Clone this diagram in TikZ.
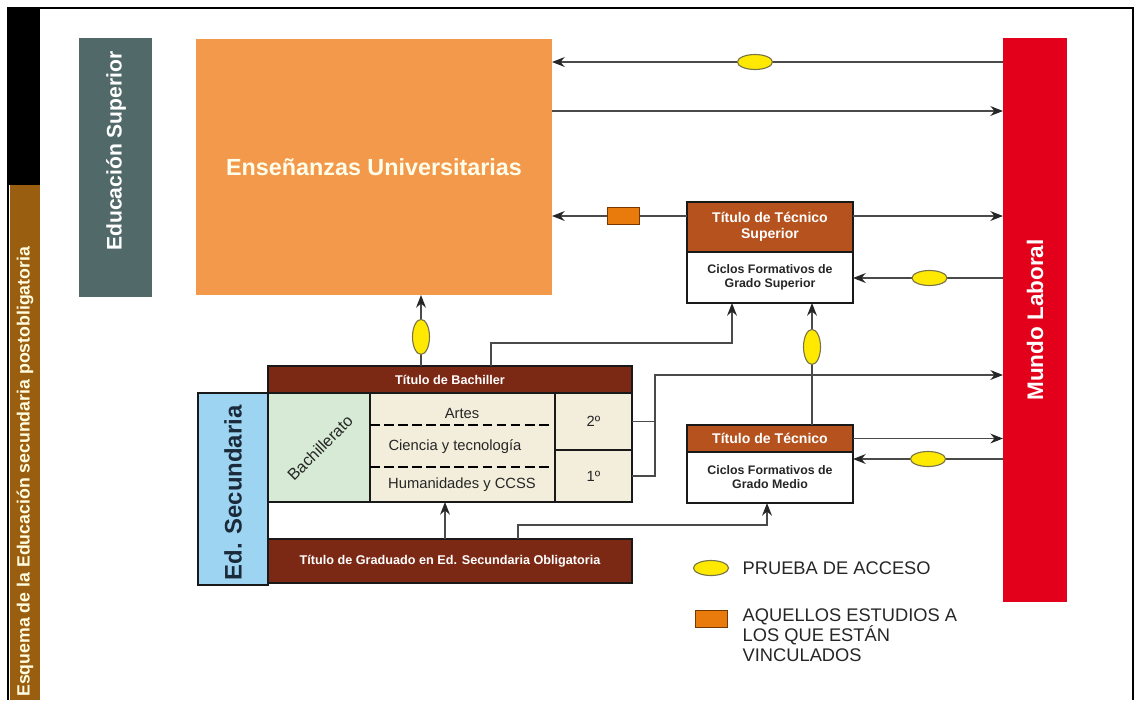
\documentclass[tikz,border=0pt]{standalone}
\usepackage{fontspec}
\setmainfont{Liberation Sans}
\usetikzlibrary{positioning}
\usetikzlibrary{arrows.meta}
\usetikzlibrary{shapes.geometric}
\newcommand{\pxu}{0.025cm}
\definecolor{bandbrown}{HTML}{9A5E10}
\definecolor{supgray}{HTML}{52696A}
\definecolor{univorange}{HTML}{F2994C}
\definecolor{laboralred}{HTML}{E2001A}
\definecolor{tecbrown}{HTML}{B5521E}
\definecolor{tituldark}{HTML}{7B2914}
\definecolor{secblue}{HTML}{9DD4F1}
\definecolor{secnavy}{HTML}{1B2A3A}
\definecolor{bachgreen}{HTML}{D6EAD5}
\definecolor{modbeige}{HTML}{F3EEDB}
\definecolor{pruebayellow}{HTML}{FFE900}
\definecolor{vincorange}{HTML}{E97B0C}
\definecolor{linegray}{HTML}{4A4A4A}

\begin{document}
\begin{tikzpicture}[x=\pxu, y=-\pxu, >={Stealth[length=9pt,width=7pt,color=black!85]}]
	\tikzstyle{block}=[rectangle, anchor=north west, inner sep=0pt, outer sep=0pt, align=center]
	\tikzstyle{boxed}=[block, draw=black!90, line width=1.6pt]
	\tikzstyle{prueba}=[ellipse, draw=black!60!yellow, fill=pruebayellow, line width=0.8pt, minimum width=35*\pxu, minimum height=15*\pxu, inner sep=0pt]
	\tikzstyle{pruebav}=[prueba, minimum width=17*\pxu, minimum height=35*\pxu]
	\tikzstyle{vinc}=[rectangle, draw=black!55!orange, fill=vincorange, line width=0.6pt, minimum width=32*\pxu, minimum height=17*\pxu, inner sep=0pt]
	\tikzstyle{link}=[draw=linegray, line width=0.9pt]
	\tikzstyle{arr}=[link, ->]
	\tikzstyle{rot}=[rotate=90, inner sep=0pt]
	\tikzstyle{cell}=[font=\fontsize{10.5}{12}\selectfont, text=black!85, inner sep=0pt]

	\useasboundingbox (0,0) rectangle (1135,700);
	% side band and frame
	\fill (8,8) rectangle (40,185);
	\fill[bandbrown] (10,185) rectangle (40,700);
	\draw[line width=1.5pt] (8,700) -- (8,8) -- (1133,8) -- (1133,700);
	\node[rot, anchor=west, text=white!88!yellow, font=\bfseries\fontsize{12.6}{12.6}\selectfont] (esquema) at (25,697) {Esquema de la Educación secundaria postobligatoria};

	% big blocks
	\node[block, fill=supgray, minimum width=73*\pxu, minimum height=259*\pxu] (edusup) at (79,38) {};
	\node[rot, text=white, font=\bfseries\fontsize{15}{15}\selectfont] (edusupTxt) at (116,151) {Educación Superior};
	\node[block, fill=univorange, minimum width=356*\pxu, minimum height=256*\pxu, text=white!92!yellow, font=\bfseries\fontsize{16.6}{16.6}\selectfont] (univ) at (196,39) {Enseñanzas Universitarias};
	\node[block, fill=laboralred, minimum width=64*\pxu, minimum height=564*\pxu] (mundo) at (1003,38) {};
	\node[rot, text=white, font=\bfseries\fontsize{16}{16}\selectfont] (mundoTxt) at (mundo.center) {Mundo Laboral};

	% ciclos formativos
	\node[boxed, fill=tecbrown, minimum width=166*\pxu, minimum height=50*\pxu, text=white, font=\bfseries\fontsize{10}{11.5}\selectfont] (tsTit) at (687,202) {Título de Técnico\\Superior};
	\node[boxed, below=0pt of tsTit, fill=white, minimum width=166*\pxu, minimum height=51*\pxu, text=black!85, font=\bfseries\fontsize{8.8}{10}\selectfont] (tsCic) {Ciclos Formativos de\\Grado Superior};
	\node[boxed, fill=tecbrown, minimum width=166*\pxu, minimum height=27*\pxu, text=white, font=\bfseries\fontsize{10}{11.5}\selectfont] (tTit) at (687,425) {Título de Técnico};
	\node[boxed, below=0pt of tTit, fill=white, minimum width=166*\pxu, minimum height=51*\pxu, text=black!85, font=\bfseries\fontsize{8.8}{10}\selectfont] (tCic) {Ciclos Formativos de\\Grado Medio};

	% secundaria
	\node[boxed, fill=tituldark, minimum width=364*\pxu, minimum height=27*\pxu, text=white, font=\bfseries\fontsize{9}{9}\selectfont] (bachTit) at (268,366) {Título de Bachiller};
	\node[boxed, fill=secblue, minimum width=70*\pxu, minimum height=192*\pxu] (edSec) at (198,393) {};
	\node[rot, text=secnavy, font=\bfseries\fontsize{17}{17}\selectfont] (edSecTxt) at (233,493) {Ed. Secundaria};
	\node[boxed, fill=bachgreen, minimum width=102*\pxu, minimum height=109*\pxu] (bachCell) at (268,393) {};
	\node[cell, rotate=45, font=\fontsize{11.5}{12}\selectfont] (bachTxt) at (320,448) {Bachillerato};
	\node[boxed, fill=modbeige, minimum width=185*\pxu, minimum height=109*\pxu] (modCell) at (370,393) {};
	\node[boxed, fill=modbeige, minimum width=77*\pxu, minimum height=57*\pxu] (sec2) at (555,393) {};
	\node[boxed, below=0pt of sec2, fill=modbeige, minimum width=77*\pxu, minimum height=52*\pxu] (sec1) {};
	\node[cell] at (sec2.center) {2º};
	\node[cell] at (sec1.center) {1º};
	\node[cell] (artes) at (462,413) {Artes};
	\node[cell] (ciencia) at (455,447) {Ciencia y tecnología};
	\node[cell] (human) at (462,485) {Humanidades y CCSS};
	\draw[line width=1.5pt, dash pattern=on 7pt off 3pt] (modCell.west |- 0,425) -- (550,425);
	\draw[line width=1.5pt, dash pattern=on 7pt off 3pt] (modCell.west |- 0,467) -- (550,467);
	\node[boxed, fill=tituldark, minimum width=364*\pxu, minimum height=44*\pxu, text=white, font=\bfseries\fontsize{9}{9}\selectfont] (gradTit) at (268,539) {Título de Graduado en Ed. Secundaria Obligatoria};

	% connectors
	\draw[arr] (mundo.west |- 0,62) -- node[prueba, pos=0.55] {} (univ.east |- 0,62);
	\draw[arr] (univ.east |- 0,111) -- (mundo.west |- 0,111);
	\draw[arr] (tsTit.west |- 0,216) -- node[vinc, pos=0.47] {} (univ.east |- 0,216);
	\draw[arr] (tsTit.east |- 0,216) -- (mundo.west |- 0,216);
	\draw[arr] (mundo.west |- 0,278) -- node[prueba, pos=0.49] {} (tsCic.east |- 0,278);
	\draw[arr] (bachTit.north -| 491,0) |- (732,343) -- (tsCic.south -| 732,0);
	\draw[arr] (tTit.north -| 812,0) -- node[pruebav, pos=0.64] {} (tsCic.south -| 812,0);
	\draw[arr] (bachTit.north -| 421,0) -- node[pruebav, pos=0.41] {} (univ.south -| 421,0);
	\coordinate (jn) at (655,375);
	\draw[link] (sec2.east) -- (sec2.east -| jn);
	\draw[arr] (sec1.east) -| (jn) -- (mundo.west |- jn);
	\draw[arr] (gradTit.north -| 445,0) -- (modCell.south -| 445,0);
	\draw[arr] (gradTit.north -| 518,0) |- (767,525) -- (tCic.south -| 767,0);
	\draw[arr] (tTit.east) -- (mundo.west |- tTit.east);
	\draw[arr] (mundo.west |- 0,459) -- node[prueba, pos=0.5] {} (tCic.east |- 0,459);

	% legend
	\node[prueba] (legP) at (711,568) {};
	\node[right=9.5pt of legP, inner sep=0pt, text=black!85, font=\fontsize{13}{14.2}\selectfont] (legPtxt) {PRUEBA DE ACCESO};
	\node[vinc] (legV) at (711,619) {};
	\node[anchor=north west, inner sep=0pt, align=left, text=black!85, font=\fontsize{13}{14.2}\selectfont] (legVtxt) at (legPtxt.west |- 0,608) {AQUELLOS ESTUDIOS A\\LOS QUE ESTÁN\\VINCULADOS};
\end{tikzpicture}
\end{document}
